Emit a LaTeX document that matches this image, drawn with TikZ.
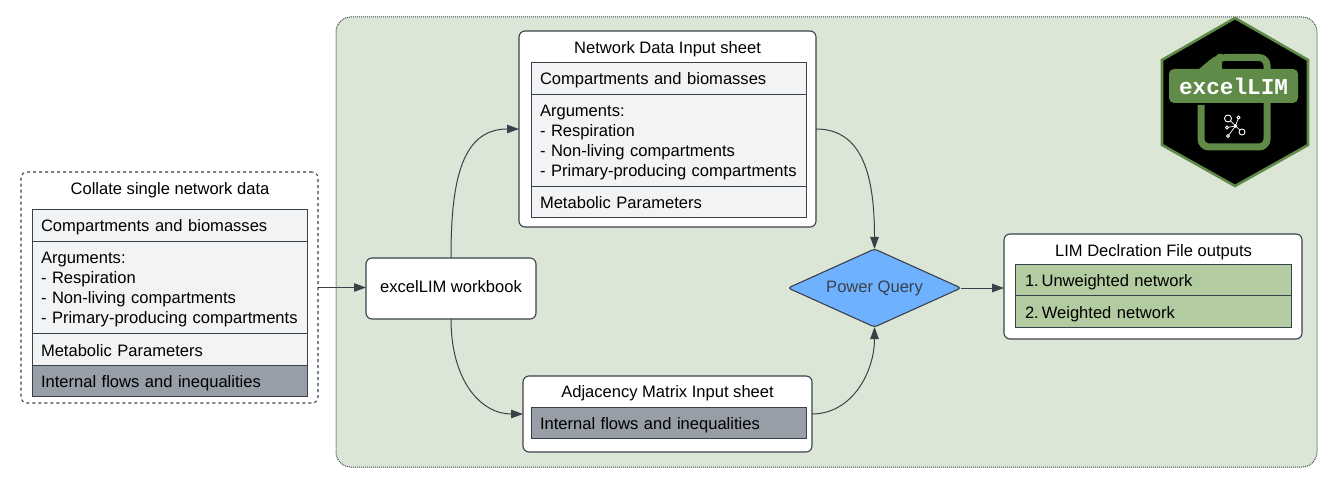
\documentclass[tikz,border=0pt]{standalone}
\usepackage{fontspec}
\setmainfont{Liberation Sans}
\newfontfamily\logofont{Liberation Mono}
\usetikzlibrary{arrows.meta,shapes.geometric}
\definecolor{lineGrey}{HTML}{3A414A}
\definecolor{panelGreen}{HTML}{DCE6D6}
\definecolor{rowGrey}{HTML}{F2F3F5}
\definecolor{rowDark}{HTML}{979EA8}
\definecolor{rowGreen}{HTML}{B2CBA0}
\definecolor{queryBlue}{HTML}{6DB1FF}
\definecolor{logoGreen}{HTML}{5F8A47}
\tikzset{
  every node/.style={font=\fontsize{16.55}{20}\selectfont,inner sep=0pt,outer sep=0pt},
  outerbox/.style={draw=lineGrey,fill=white,line width=1.1pt,rounded corners=6pt,anchor=north west},
  rowbase/.style={draw=lineGrey,fill=rowGrey,line width=.85pt,anchor=north west,align=left,
    text width=257pt,inner xsep=9pt,minimum height=32pt},
  rowbox/.style={rowbase,text height=14pt,text depth=0pt},
  argrow/.style={rowbase,minimum height=92pt},
  darkrow/.style={rowbox,fill=rowDark,minimum height=31.5pt},
  greenrow/.style={rowbox,fill=rowGreen,text width=256pt,inner xsep=10pt,minimum height=31.5pt},
  flow/.style={draw=lineGrey,line width=1pt,-{Triangle[length=12pt,width=8.5pt]}},
  netdot/.style={circle,draw=white,line width=.9pt,fill=black}
}
\newcommand{\argtext}{\rule{0pt}{16pt}Arguments:\\- Respiration\\- Non-living compartments\\- Primary-producing compartments}
\begin{document}
\begin{tikzpicture}[x=1pt,y=-1pt]
\useasboundingbox (0,0) rectangle (1337,486);
% green panel
\node[draw=lineGrey,fill=panelGreen,line width=1pt,densely dotted,rounded corners=15pt,anchor=north west,
  minimum width=981pt,minimum height=450pt] (panel) at (336,17) {};
% logo
\draw[draw=logoGreen,fill=black,line width=2.6pt] (1235,18) -- (1308,60) -- (1308,145) -- (1235,186)
  -- (1162,145) -- (1162,60) -- cycle;
\draw[draw=logoGreen,line width=7pt,rounded corners=8pt] (1201,105) -- (1201,147) -- (1267,147)
  -- (1267,57.5) -- (1218,57.5) -- (1201,72);
\fill[logoGreen] (1201,72) -- (1218,54) -- (1222,54) -- (1222,72) -- cycle;
\node[fill=logoGreen,rounded corners=5pt,minimum width=129pt,minimum height=34pt,text=white,
  font=\logofont\bfseries\fontsize{22.7}{24}\selectfont] (logotext) at (1233.5,86) {excelLIM};
\node[netdot,fill=white,minimum size=2.5pt] (hub) at (1235.5,126) {};
\node[netdot,minimum size=7pt] (n1) at (1228,118.5) {};
\node[netdot,minimum size=3pt] (n2) at (1238.5,117.5) {};
\node[netdot,minimum size=3pt] (n3) at (1227,127.5) {};
\node[netdot,minimum size=6pt] (n4) at (1242,132) {};
\node[netdot,minimum size=3pt] (n5) at (1228,136) {};
\foreach \n in {n1,n2,n3,n4,n5}
  \draw[white,line width=.7pt] (hub) -- (\n);
% left box
\node[outerbox,dashed,minimum width=297pt,minimum height=231pt] (collate) at (21,172) {};
\node (collateT) at (170,190.5) {Collate single network data};
\node[rowbox] (c1) at (32,209) {Compartments and biomasses};
\node[argrow] (c2) at (32,241) {\argtext};
\node[rowbox] (c3) at (32,333) {Metabolic Parameters};
\node[darkrow] (c4) at (32,365) {Internal flows and inequalities};
% workbook
\node[outerbox,minimum width=170pt,minimum height=61pt,anchor=center,text depth=4pt] (workbook) at (451,288.5) {excelLIM workbook};
% network data sheet
\node[outerbox,minimum width=297pt,minimum height=196pt] (netsheet) at (519,31) {};
\node (netsheetT) at (667.5,49) {Network Data Input sheet};
\node[rowbox] (s1) at (531,62) {Compartments and biomasses};
\node[argrow] (s2) at (531,94) {\argtext};
\node[rowbox,minimum height=31pt] (s3) at (531,186) {Metabolic Parameters};
% adjacency sheet
\node[outerbox,minimum width=289pt,minimum height=76pt] (adjsheet) at (523,376) {};
\node (adjsheetT) at (667.5,393.5) {Adjacency Matrix Input sheet};
\node[darkrow] (a1) at (531,407) {Internal flows and inequalities};
% power query
\node[diamond,draw=lineGrey,fill=queryBlue,line width=1.1pt,rounded corners=3pt,text=lineGrey,
  minimum width=173pt,minimum height=78pt,aspect=2.2] (query) at (874.5,288) {};
\node[text=lineGrey] (queryT) at (874.5,288.5) {Power Query};
% outputs
\node[outerbox,minimum width=298pt,minimum height=105pt] (lim) at (1004,234) {};
\node (limT) at (1153.5,252.5) {LIM Declration File outputs};
\node[greenrow] (o1) at (1015,264) {1.\,Unweighted network};
\node[greenrow] (o2) at (1015,295.5) {2.\hspace{3pt}Weighted network};
% connectors
\draw[flow] (collate.east) -- (collate.east -| workbook.west);
\draw[flow] (workbook.north) .. controls +(0,-70) and +(-60,0) .. (netsheet.west);
\draw[flow] (workbook.south) .. controls +(0,62) and +(-42,0) .. (adjsheet.west);
\draw[flow] (netsheet.east) .. controls +(48,0) and +(0,-70) .. (query.north);
\draw[flow] (adjsheet.east) .. controls +(40,0) and +(0,45) .. (query.south);
\draw[flow] (query.east) -- (query.east -| lim.west);
\end{tikzpicture}
\end{document}
